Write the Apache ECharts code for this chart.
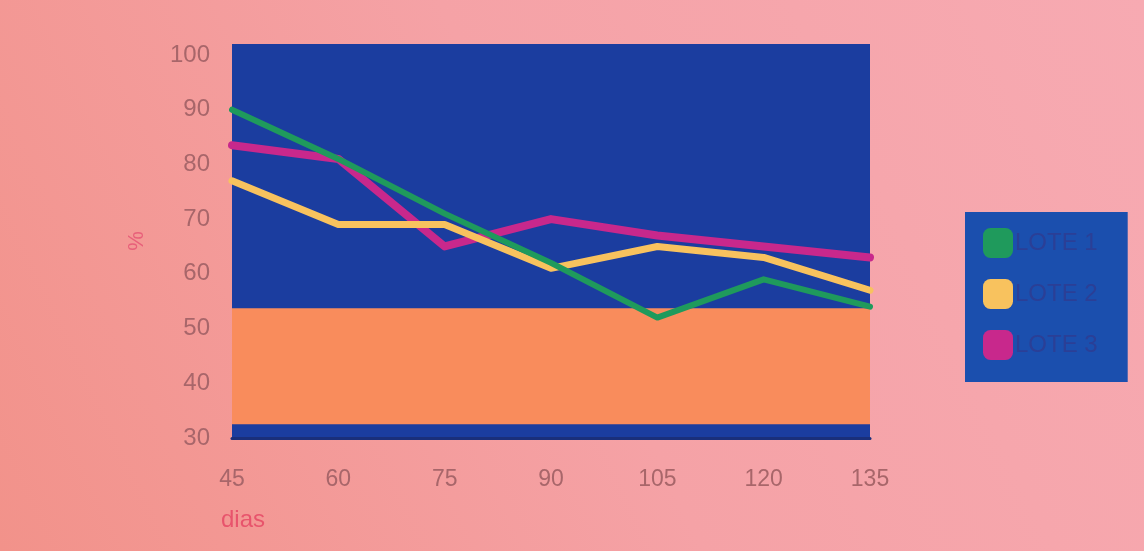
<!DOCTYPE html>
<html>
<head>
<meta charset="utf-8">
<script src="https://cdn.jsdelivr.net/npm/echarts@6/dist/echarts.min.js"></script>
<style>
html,body{margin:0;padding:0;}
#c{width:1144px;height:551px;}
</style>
</head>
<body>
<div id="c"></div>
<script>
const dias = ['45', '60', '75', '90', '105', '120', '135'];
const lote1 = [90, 81, 71, 62, 52, 59, 54];
const lote2 = [77, 69, 69, 61, 65, 63, 57];
const lote3 = [83.5, 81, 65, 70, 67, 65, 63];
const bandRange = [32.5, 53.7];
const seriesNames = ['LOTE 1', 'LOTE 2', 'LOTE 3'];

const chart = echarts.init(document.getElementById('c'));
const labelColor = '#a8666a';
const colors = ['#1f9a5c', '#f8c25e', '#c8288c'];
const widths = [6, 7, 8];
const datasets = [lote1, lote2, lote3];

const lineSeries = seriesNames.map((n, i) => ({
  name: n,
  type: 'line',
  data: datasets[i],
  symbol: 'none',
  z: 5 - i,
  lineStyle: { color: colors[i], width: widths[i], cap: 'round', join: 'round' },
  itemStyle: { color: colors[i] }
}));

chart.setOption({
  backgroundColor: {
    type: 'linear', x: 1, y: 0, x2: 0, y2: 1,
    colorStops: [
      { offset: 0, color: '#f7aab2' },
      { offset: 0.5, color: '#f5a2a6' },
      { offset: 1, color: '#f2928a' }
    ]
  },
  animation: false,
  title: {
    text: 'dias', left: 216, top: 503,
    textStyle: { color: '#e8546c', fontSize: 24, fontWeight: 'normal', fontFamily: 'Liberation Sans' }
  },
  grid: {
    left: 232, right: 274, top: 44, bottom: 113,
    show: true, backgroundColor: '#1b3d9f', borderWidth: 0
  },
  legend: {
    orient: 'vertical',
    left: 965, top: 212,
    width: 165,
    backgroundColor: '#1b4fae',
    padding: [16, 30, 22, 18],
    itemWidth: 30, itemHeight: 30, itemGap: 21,
    icon: 'roundRect',
    data: seriesNames,
    textStyle: { color: '#2b3f96', fontSize: 24, fontFamily: 'Liberation Sans', padding: [0, 0, 0, -3] }
  },
  xAxis: {
    type: 'category',
    data: dias,
    boundaryGap: false,
    axisLine: { show: true, lineStyle: { color: '#1a2f7a', width: 3 } },
    axisTick: { show: false },
    splitLine: { show: false },
    axisLabel: { color: labelColor, fontSize: 23, margin: 30, fontFamily: 'Liberation Sans' }
  },
  yAxis: {
    type: 'value',
    min: 30, max: 102, interval: 10,
    name: '%', nameLocation: 'middle', nameGap: 84, nameRotate: 90,
    nameTextStyle: { color: '#e8607a', fontSize: 22, fontFamily: 'Liberation Sans' },
    axisLine: { show: false },
    axisTick: { show: false },
    splitLine: { show: false },
    axisLabel: {
      color: labelColor, fontSize: 24, margin: 22, fontFamily: 'Liberation Sans',
      formatter: v => (v % 10 === 0 && v <= 100) ? String(v) : ''
    }
  },
  series: [
    {
      name: 'band', type: 'line', data: [], z: 1, silent: true,
      markArea: {
        silent: true,
        itemStyle: { color: '#f98c5c', opacity: 1 },
        data: [[{ yAxis: bandRange[0] }, { yAxis: bandRange[1] }]]
      }
    },
    ...lineSeries
  ]
});
</script>
</body>
</html>
